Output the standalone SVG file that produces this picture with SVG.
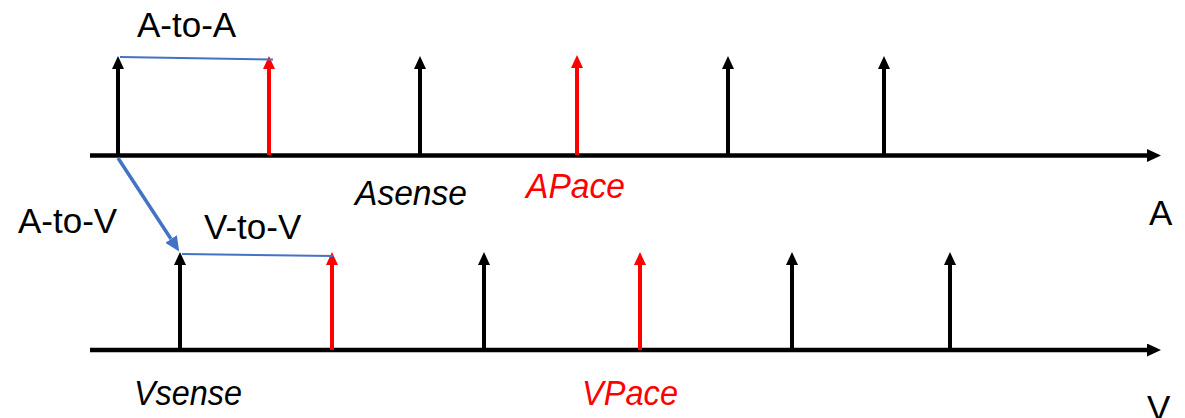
<svg xmlns="http://www.w3.org/2000/svg" width="1185" height="418" viewBox="0 0 1185 418">
  <style>
    .axis { stroke: #000; stroke-width: 4.5; fill: none; }
    .sense { stroke: #000; stroke-width: 4; fill: none; }
    .pace { stroke: #ff0000; stroke-width: 4; fill: none; }
    .interval { stroke: #4472c4; stroke-width: 2; fill: none; }
    .delay { stroke: #4472c4; stroke-width: 3.5; fill: none; }
    .label { font-family: "Liberation Sans", Arial, sans-serif; font-size: 35px; fill: #000; }
    .ev { font-family: "Liberation Sans", Arial, sans-serif; font-size: 35px; font-style: italic; }
    .ev-sense { fill: #000; }
    .ev-pace { fill: #ff0000; }
  </style>
  <defs>
    <!-- heads start at the line end and extend forward -->
    <marker id="headBlack" markerUnits="userSpaceOnUse" markerWidth="13" markerHeight="12" refX="0" refY="6" orient="auto" viewBox="0 0 13 12">
      <path d="M0,0 L13,6 L0,12 Z" fill="#000"/>
    </marker>
    <marker id="headRed" markerUnits="userSpaceOnUse" markerWidth="13" markerHeight="12" refX="0" refY="6" orient="auto" viewBox="0 0 13 12">
      <path d="M0,0 L13,6 L0,12 Z" fill="#ff0000"/>
    </marker>
    <marker id="headAxis" markerUnits="userSpaceOnUse" markerWidth="14" markerHeight="13" refX="0" refY="6.5" orient="auto" viewBox="0 0 14 13">
      <path d="M0,0 L14,6.5 L0,13 Z" fill="#000"/>
    </marker>
    <marker id="headBlue" markerUnits="userSpaceOnUse" markerWidth="15" markerHeight="14" refX="0" refY="7" orient="auto" viewBox="0 0 15 14">
      <path d="M0,0 L15,7 L0,14 Z" fill="#4472c4"/>
    </marker>
  </defs>

  <!-- time axes -->
  <g id="axis-a">
    <line class="axis" x1="90" y1="155.5" x2="1147" y2="155.5" marker-end="url(#headAxis)"/>
    <text class="label" x="1149" y="225">A</text>
  </g>
  <g id="axis-v">
    <line class="axis" x1="90" y1="350" x2="1147" y2="350" marker-end="url(#headAxis)"/>
    <text class="label" x="1147" y="420">V</text>
  </g>

  <!-- atrial events -->
  <g id="a-events">
    <line class="sense" x1="118" y1="155" x2="118" y2="69" marker-end="url(#headBlack)"/>
    <line class="pace" x1="269" y1="155" x2="269" y2="69" marker-end="url(#headRed)"/>
    <line class="sense" x1="420" y1="155" x2="420" y2="69" marker-end="url(#headBlack)"/>
    <line class="pace" x1="577" y1="155" x2="577" y2="68" marker-end="url(#headRed)"/>
    <line class="sense" x1="728" y1="155" x2="728" y2="69" marker-end="url(#headBlack)"/>
    <line class="sense" x1="884" y1="155" x2="884" y2="69" marker-end="url(#headBlack)"/>
  </g>

  <!-- ventricular events -->
  <g id="v-events">
    <line class="sense" x1="180" y1="350" x2="180" y2="265" marker-end="url(#headBlack)"/>
    <line class="pace" x1="332" y1="350" x2="332" y2="265" marker-end="url(#headRed)"/>
    <line class="sense" x1="484" y1="350" x2="484" y2="265" marker-end="url(#headBlack)"/>
    <line class="pace" x1="640" y1="350" x2="640" y2="265" marker-end="url(#headRed)"/>
    <line class="sense" x1="792" y1="350" x2="792" y2="265" marker-end="url(#headBlack)"/>
    <line class="sense" x1="950" y1="350" x2="950" y2="265" marker-end="url(#headBlack)"/>
  </g>

  <!-- timing intervals -->
  <g id="connectors">
    <line class="interval" x1="120" y1="57" x2="273" y2="59.5"/>
    <line class="interval" x1="182" y1="254" x2="333" y2="256"/>
    <line class="delay" x1="118" y1="158" x2="171" y2="239" marker-end="url(#headBlue)"/>
  </g>

  <g id="interval-labels">
    <text class="label" x="137" y="37">A-to-A</text>
    <text class="label" x="18" y="233">A-to-V</text>
    <text class="label" x="204" y="239">V-to-V</text>
  </g>

  <g id="event-labels">
    <text class="ev ev-sense" x="355" y="205" textLength="112" lengthAdjust="spacingAndGlyphs">Asense</text>
    <text class="ev ev-pace" x="526" y="198" textLength="99" lengthAdjust="spacingAndGlyphs">APace</text>
    <text class="ev ev-sense" x="134" y="405" textLength="108" lengthAdjust="spacingAndGlyphs">Vsense</text>
    <text class="ev ev-pace" x="582" y="405" textLength="96" lengthAdjust="spacingAndGlyphs">VPace</text>
  </g>
</svg>
